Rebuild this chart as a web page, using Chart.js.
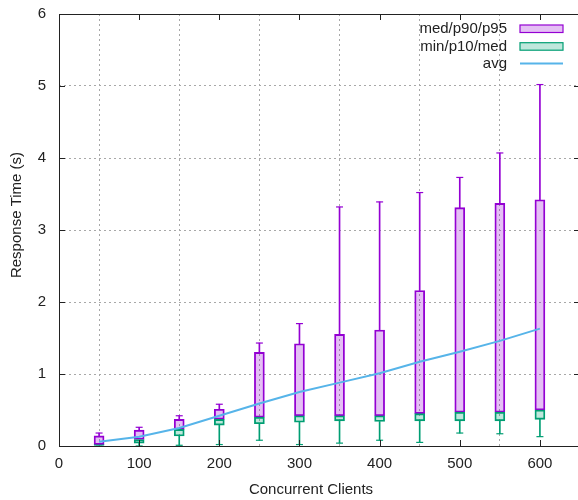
<!DOCTYPE html>
<html>
<head>
<meta charset="utf-8">
<script src="https://cdn.jsdelivr.net/npm/chart.js@4.4.1/dist/chart.umd.min.js"></script>
<style>
  html, body { margin: 0; padding: 0; background: #fff; overflow: hidden; }
  #wrap { width: 578px; height: 500px; overflow: hidden; }
</style>
</head>
<body>
<div id="wrap"><canvas id="rtChart" width="580" height="500"></canvas></div>
<script>
// -------------------- DATA --------------------
const clients = [50, 100, 150, 200, 250, 300, 350, 400, 450, 500, 550, 600];
const p95  = [0.18, 0.26, 0.42, 0.58, 1.43, 1.70, 3.32, 3.39, 3.52, 3.73, 4.07, 5.02];
const p90  = [0.14, 0.22, 0.37, 0.51, 1.30, 1.42, 1.55, 1.61, 2.16, 3.31, 3.37, 3.42];
const med  = [0.02, 0.09, 0.23, 0.37, 0.40, 0.42, 0.42, 0.42, 0.45, 0.47, 0.47, 0.50];
const p10  = [0.00, 0.04, 0.14, 0.29, 0.31, 0.33, 0.35, 0.34, 0.35, 0.35, 0.35, 0.37];
const minv = [0.00, 0.00, 0.01, 0.02, 0.08, 0.02, 0.04, 0.08, 0.05, 0.18, 0.17, 0.13];
const avg  = [0.06, 0.13, 0.25, 0.42, 0.59, 0.75, 0.88, 1.01, 1.17, 1.31, 1.46, 1.63];

const xTicks = [0, 100, 200, 300, 400, 500, 600];
const yTicks = [0, 1, 2, 3, 4, 5, 6];
const legendLabels = ["med/p90/p95", "min/p10/med", "avg"];

const PURPLE = "#9400d3";
const GREEN = "#009e73";
const BLUE = "#56b4e9";
const FONT = '15px "Liberation Sans", Arial, sans-serif';

const range = (lo, hi) => clients.map((c, i) => ({ x: c, y: [lo[i], hi[i]] }));
const pts = (arr) => clients.map((c, i) => ({ x: c, y: arr[i] }));

// -------------------- FRAME / TICKS / LABELS / LEGEND --------------------
const gnuplotDecor = {
  id: "gnuplotDecor",
  afterDatasetsDraw(chart) {
    const { ctx, chartArea: a, scales: { x, y } } = chart;
    ctx.save();
    ctx.strokeStyle = "#222";
    ctx.lineWidth = 1;
    // inward ticks, mirrored (gnuplot style)
    ctx.beginPath();
    xTicks.forEach(v => {
      const px = Math.round(x.getPixelForValue(v)) + 0.5;
      ctx.moveTo(px, a.bottom); ctx.lineTo(px, a.bottom - 6);
      ctx.moveTo(px, a.top); ctx.lineTo(px, a.top + 6);
    });
    yTicks.forEach(v => {
      const py = Math.round(y.getPixelForValue(v)) + 0.5;
      ctx.moveTo(a.left, py); ctx.lineTo(a.left + 6, py);
      ctx.moveTo(a.right, py); ctx.lineTo(a.right - 6, py);
    });
    ctx.stroke();
    ctx.strokeRect(a.left + 0.5, a.top + 0.5, a.right - a.left - 1, a.bottom - a.top);

    // tick labels
    ctx.fillStyle = "#222";
    ctx.font = FONT;
    ctx.textBaseline = "middle";
    ctx.textAlign = "center";
    xTicks.forEach(v => ctx.fillText(String(v), x.getPixelForValue(v), a.bottom + 18));
    ctx.textAlign = "right";
    yTicks.forEach(v => ctx.fillText(String(v), 46, y.getPixelForValue(v)));

    // axis titles
    ctx.textAlign = "center";
    ctx.fillText("Concurrent Clients", 311, 490);
    ctx.save();
    ctx.translate(17, 215);
    ctx.rotate(-Math.PI / 2);
    ctx.fillText("Response Time (s)", 0, 0);
    ctx.restore();

    // legend (top right, text left of sample)
    const rows = [28.7, 46.4, 64];
    ctx.textAlign = "right";
    legendLabels.forEach((t, i) => ctx.fillText(t, 507, rows[i]));
    ctx.lineWidth = 1.2;
    ctx.fillStyle = "rgba(148,0,211,0.25)";
    ctx.strokeStyle = PURPLE;
    ctx.fillRect(520, 25, 43, 7.5);
    ctx.strokeRect(520, 25, 43, 7.5);
    ctx.fillStyle = "rgba(0,158,115,0.25)";
    ctx.strokeStyle = GREEN;
    ctx.fillRect(520, 42.7, 43, 7.5);
    ctx.strokeRect(520, 42.7, 43, 7.5);
    ctx.strokeStyle = BLUE;
    ctx.lineWidth = 2;
    ctx.beginPath();
    ctx.moveTo(520, 63.5); ctx.lineTo(563, 63.5);
    ctx.stroke();
    ctx.restore();
  }
};

// -------------------- CHART --------------------
const ctx = document.getElementById("rtChart").getContext("2d");

new Chart(ctx, {
  data: {
    datasets: [
      // avg line on top
      { type: "line", data: pts(avg), borderColor: BLUE, borderWidth: 2, pointRadius: 0, tension: 0, order: 0 },
      // min/p10/med
      { type: "bar", data: range(p10, med), backgroundColor: "rgba(0,158,115,0.25)", borderColor: GREEN,
        borderWidth: 1.2, borderSkipped: false, barThickness: 10, grouped: false, order: 1 },
      { type: "bar", data: range(minv, p10), backgroundColor: GREEN, borderWidth: 0,
        barThickness: 1, grouped: false, order: 1 },
      { type: "scatter", data: pts(minv), pointStyle: "line", pointRadius: 3.5, borderColor: GREEN,
        borderWidth: 1.2, order: 1 },
      // med/p90/p95
      { type: "bar", data: range(med, p90), backgroundColor: "rgba(148,0,211,0.25)", borderColor: PURPLE,
        borderWidth: 1.2, borderSkipped: false, barThickness: 10, grouped: false, order: 2 },
      { type: "bar", data: range(p90, p95), backgroundColor: PURPLE, borderWidth: 0,
        barThickness: 1, grouped: false, order: 2 },
      { type: "scatter", data: pts(p95), pointStyle: "line", pointRadius: 3.5, borderColor: PURPLE,
        borderWidth: 1.2, order: 2 },
    ],
  },
  options: {
    responsive: false,
    animation: false,
    events: [],
    layout: { autoPadding: false, padding: { top: 14, right: 0, left: 0, bottom: 0 } },
    plugins: { legend: { display: false }, tooltip: { enabled: false } },
    scales: {
      x: {
        type: "linear",
        min: 0,
        max: 650,
        offset: false,
        afterBuildTicks: s => { s.ticks = xTicks.map(v => ({ value: v })); },
        afterFit: s => { s.height = 54; },
        ticks: { display: false },
        grid: { color: "#a8a8a8", lineWidth: 1, drawTicks: false },
        border: { display: false, dash: [2, 3] },
      },
      y: {
        type: "linear",
        min: 0,
        max: 6,
        afterBuildTicks: s => { s.ticks = yTicks.map(v => ({ value: v })); },
        afterFit: s => { s.width = 59; },
        ticks: { display: false },
        grid: { color: "#a8a8a8", lineWidth: 1, drawTicks: false },
        border: { display: false, dash: [2, 3] },
      },
    },
  },
  plugins: [gnuplotDecor],
});
</script>
</body>
</html>
